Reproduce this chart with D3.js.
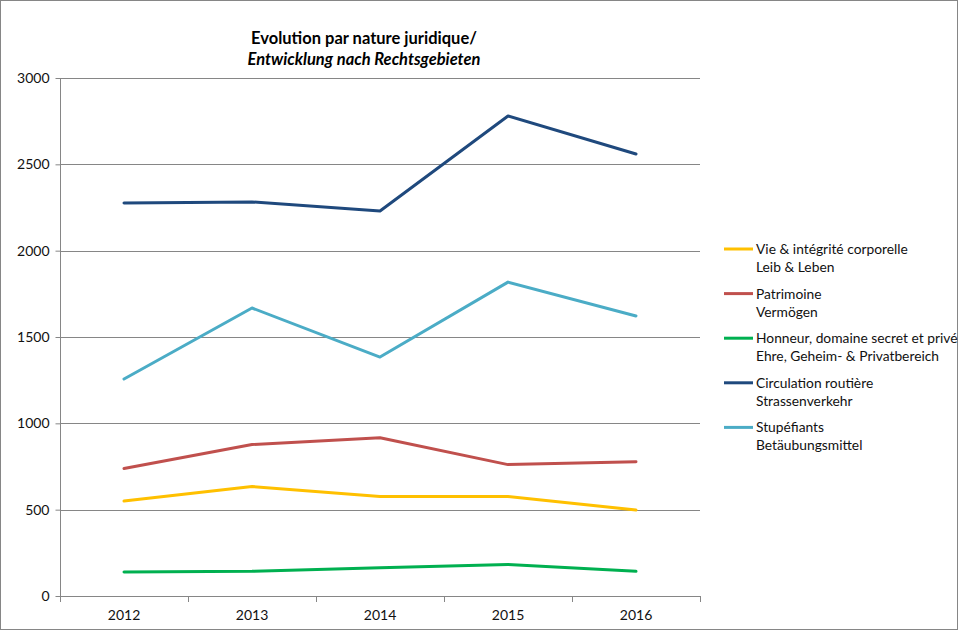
<!DOCTYPE html>
<html><head><meta charset="utf-8">
<script src="https://cdn.jsdelivr.net/npm/d3@7"></script>
<style>body{margin:0;background:#fff}text{font-family:Lato,"Open Sans",sans-serif}</style>
</head><body>
<svg id="c" width="960" height="631"></svg>
<script>
const years = ["2012","2013","2014","2015","2016"];
const yTicks = [0,500,1000,1500,2000,2500,3000];
const seriesNames = [
  ["Vie & intégrité corporelle","Leib & Leben"],
  ["Patrimoine","Vermögen"],
  ["Honneur, domaine secret et privé","Ehre, Geheim- & Privatbereich"],
  ["Circulation routière","Strassenverkehr"],
  ["Stupéfiants","Betäubungsmittel"]
];
const colors = ["#FFC000","#C0504D","#00B050","#1F497D","#4BACC6"];
const vie = [550,634,576,576,498];
const patrimoine = [738,877,917,761,778];
const honneur = [139,143,164,183,143];
const circulation = [2276,2282,2230,2780,2560];
const stupefiants = [1257,1668,1384,1818,1622];
const seriesValues = [vie,patrimoine,honneur,circulation,stupefiants];

const svg = d3.select("#c");
svg.append("rect").attr("x",0.5).attr("y",0.5).attr("width",957).attr("height",629)
  .attr("fill","#fff").attr("stroke","#868686");

const L=60,R=700,T=78,B=596;
const x = d3.scaleBand().domain(years).range([L,R]);
const y = d3.scaleLinear().domain([0,3000]).range([B,T]);

// gridlines
svg.append("g").selectAll("line").data(yTicks.filter(d=>d>0)).join("line")
  .attr("x1",L).attr("x2",R).attr("y1",d=>Math.round(y(d))+0.5).attr("y2",d=>Math.round(y(d))+0.5)
  .attr("stroke","#868686").attr("stroke-width",1);

const yAx = svg.append("g").attr("transform",`translate(${L+0.5},0)`)
  .call(d3.axisLeft(y).tickValues(yTicks).tickSize(5).tickPadding(6).tickFormat(d3.format("d")));
yAx.select(".domain").attr("stroke","#868686").attr("d",`M0,${T}V${B}`);
yAx.selectAll(".tick line").attr("stroke","#868686");
yAx.selectAll("text").attr("font-size",14).attr("fill","#111").attr("font-family","Lato,sans-serif");

const xAx = svg.append("g").attr("transform",`translate(0,${B+0.5})`)
  .call(d3.axisBottom(x).tickSize(0).tickPadding(14));
xAx.select(".domain").attr("stroke","#868686").attr("d",`M${L},0H${R}`);
xAx.selectAll("text").attr("font-size",14).attr("fill","#111").attr("font-family","Lato,sans-serif");
// category boundary ticks
svg.append("g").selectAll("line").data(d3.range(years.length+1)).join("line")
  .attr("x1",i=>Math.round(L+i*x.step())+0.5).attr("x2",i=>Math.round(L+i*x.step())+0.5)
  .attr("y1",B).attr("y2",B+6).attr("stroke","#868686");

const line = d3.line().x((d,i)=>x(years[i])+x.bandwidth()/2).y(d=>y(d));
svg.append("g").selectAll("path").data(seriesValues).join("path")
  .attr("d",line).attr("fill","none").attr("stroke",(d,i)=>colors[i])
  .attr("stroke-width",3).attr("stroke-linejoin","round").attr("stroke-linecap","round");

// title
const title = svg.append("text").attr("x",364).attr("text-anchor","middle")
  .attr("font-size",16.5).attr("fill","#000");
title.append("tspan").attr("x",364).attr("y",44).attr("font-weight","bold").text("Evolution par nature juridique/");
title.append("tspan").attr("x",364).attr("y",65).attr("font-weight","bold").attr("font-style","italic").text("Entwicklung nach Rechtsgebieten");

// legend
const lg = svg.append("g").selectAll("g").data(seriesNames).join("g")
  .attr("transform",(d,i)=>`translate(724,${249+i*44.6})`);
lg.append("line").attr("x1",0).attr("x2",29).attr("y1",0).attr("y2",0)
  .attr("stroke",(d,i)=>colors[i]).attr("stroke-width",3);
lg.append("text").attr("x",32).attr("y",5).attr("font-size",13.8).attr("fill","#111").text(d=>d[0]);
lg.append("text").attr("x",32).attr("y",23).attr("font-size",13.8).attr("fill","#111").text(d=>d[1]);
</script>
</body></html>
